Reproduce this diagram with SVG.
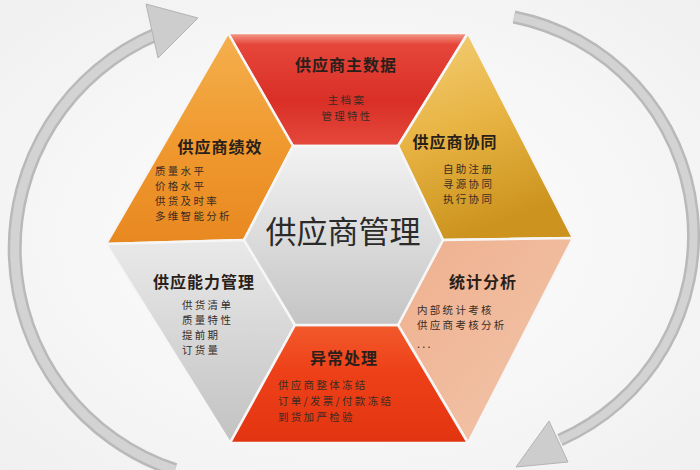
<svg xmlns="http://www.w3.org/2000/svg" width="700" height="470" viewBox="0 0 700 470">
<defs>
<style>
.seg{stroke:#f6f6f6;stroke-width:2.5;stroke-linejoin:round}
.title{font-family:"Noto Sans CJK SC","Noto Sans",sans-serif;font-weight:bold;font-size:16px;letter-spacing:1px;fill:#2a1f1a}
.sub{font-family:"Noto Sans CJK SC","Noto Sans",sans-serif;font-size:10.5px;letter-spacing:2.3px;fill:#3a2c24}
.center{font-family:"Noto Sans CJK SC","Noto Sans",sans-serif;font-size:31px;fill:#2b2b2b}
.arcOuter{fill:none;stroke:#b9b9b9}
.arcInner{fill:none;stroke:#d3d3d3}
.head{fill:#cdcdcd;stroke:#b3b3b3;stroke-width:1}
</style>
<radialGradient id="bg" cx="0.5" cy="0.5" r="0.7">
<stop offset="0" stop-color="#ffffff"/><stop offset="1" stop-color="#f0f0f0"/>
</radialGradient>
<linearGradient id="gTop" x1="0" y1="0" x2="0" y2="1">
<stop offset="0" stop-color="#f3a08e"/><stop offset="0.1" stop-color="#e6463a"/><stop offset="0.6" stop-color="#d92f27"/><stop offset="1" stop-color="#e5493b"/>
</linearGradient>
<linearGradient id="gUL" x1="0" y1="0" x2="0" y2="1">
<stop offset="0" stop-color="#f4b04e"/><stop offset="0.5" stop-color="#f09a30"/><stop offset="1" stop-color="#e88820"/>
</linearGradient>
<linearGradient id="gUR" x1="0" y1="0" x2="0.3" y2="1">
<stop offset="0" stop-color="#f3cf78"/><stop offset="0.5" stop-color="#e8b444"/><stop offset="1" stop-color="#cc941e"/>
</linearGradient>
<linearGradient id="gLR" x1="0" y1="0" x2="1" y2="1">
<stop offset="0" stop-color="#eeb08e"/><stop offset="1" stop-color="#f3c6ac"/>
</linearGradient>
<linearGradient id="gBot" x1="0" y1="0" x2="0" y2="1">
<stop offset="0" stop-color="#f25a2c"/><stop offset="0.4" stop-color="#ee4018"/><stop offset="1" stop-color="#e23410"/>
</linearGradient>
<linearGradient id="gLL" x1="0" y1="0" x2="0" y2="1">
<stop offset="0" stop-color="#e9e9e9"/><stop offset="1" stop-color="#c2c2c2"/>
</linearGradient>
<linearGradient id="gC" x1="0" y1="0" x2="0" y2="1">
<stop offset="0" stop-color="#f2f2f2"/><stop offset="0.5" stop-color="#dcdcdc"/><stop offset="1" stop-color="#c4c4c4"/>
</linearGradient>
</defs>
<rect width="700" height="470" fill="url(#bg)"/>

<g id="connectors">
<g id="arc-left">
<path class="arcOuter" stroke-width="14" d="M175,470 A233,233 0 0 1 157,34"/>
<path class="arcInner" stroke-width="9" d="M175,470 A233,233 0 0 1 157,34"/>
<polygon class="head" points="146,4 198,18 158,58"/>
</g>
<g id="arc-right">
<path class="arcOuter" stroke-width="13" d="M514,17 A223,223 0 0 1 560,440"/>
<path class="arcInner" stroke-width="8" d="M514,17 A223,223 0 0 1 560,440"/>
<polygon class="head" points="568,462 516,467 549,421"/>
</g>
</g>

<g id="node-top">
<polygon class="seg" fill="url(#gTop)" points="228,33 468,33 398,146 293,146"/>
<text class="title" x="346" y="71" text-anchor="middle">供应商主数据</text>
<text class="sub" x="347" y="104" text-anchor="middle">主档案</text>
<text class="sub" x="347" y="120" text-anchor="middle">管理特性</text>
</g>

<g id="node-upper-left">
<polygon class="seg" fill="url(#gUL)" points="228,33 293,146 244,240 106,244"/>
<text class="title" x="220" y="153" text-anchor="middle">供应商绩效</text>
<text class="sub" x="155" y="175">质量水平</text>
<text class="sub" x="155" y="190">价格水平</text>
<text class="sub" x="155" y="205">供货及时率</text>
<text class="sub" x="155" y="220">多维智能分析</text>
</g>

<g id="node-upper-right">
<polygon class="seg" fill="url(#gUR)" points="468,33 573,238 443,240 398,146"/>
<text class="title" x="455" y="148" text-anchor="middle">供应商协同</text>
<text class="sub" x="443" y="173">自助注册</text>
<text class="sub" x="443" y="188">寻源协同</text>
<text class="sub" x="443" y="203">执行协同</text>
</g>

<g id="node-lower-left">
<polygon class="seg" fill="url(#gLL)" points="106,244 244,240 295,325 230,443"/>
<text class="title" x="204" y="288" text-anchor="middle">供应能力管理</text>
<text class="sub" x="182" y="309">供货清单</text>
<text class="sub" x="182" y="324">质量特性</text>
<text class="sub" x="182" y="339">提前期</text>
<text class="sub" x="182" y="354">订货量</text>
</g>

<g id="node-lower-right">
<polygon class="seg" fill="url(#gLR)" points="573,238 468,443 398,325 443,240"/>
<text class="title" x="483" y="288" text-anchor="middle">统计分析</text>
<text class="sub" x="417" y="314">内部统计考核</text>
<text class="sub" x="417" y="329">供应商考核分析</text>
<text class="sub" x="417" y="348" font-size="8" letter-spacing="1">...</text>
</g>

<g id="node-bottom">
<polygon class="seg" fill="url(#gBot)" points="398,325 468,443 230,443 295,325"/>
<text class="title" x="344" y="364" text-anchor="middle">异常处理</text>
<text class="sub" x="278" y="389">供应商整体冻结</text>
<text class="sub" x="278" y="405">订单/发票/付款冻结</text>
<text class="sub" x="278" y="421">到货加严检验</text>
</g>

<g id="node-center">
<polygon class="seg" fill="url(#gC)" points="293,146 398,146 443,240 398,325 295,325 244,240"/>
<text class="center" x="343" y="243" text-anchor="middle">供应商管理</text>
</g>
</svg>
